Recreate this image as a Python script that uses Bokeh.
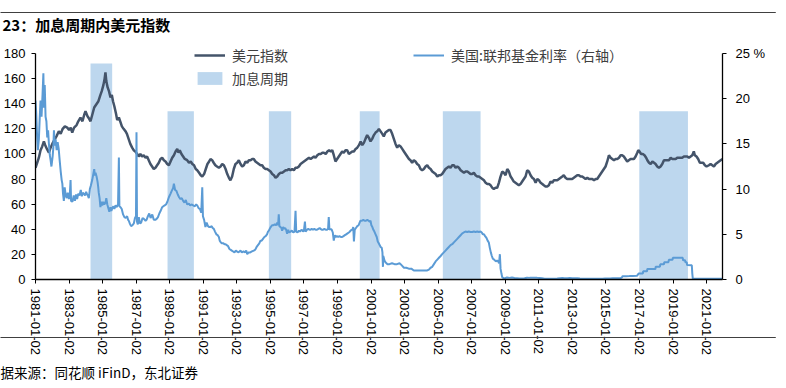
import math
import numpy as np
import pandas as pd
from bokeh.plotting import figure
from bokeh.models import (Range1d, LinearAxis, FixedTicker, DatetimeTickFormatter,
                          Legend, LegendItem, Label)
from bokeh.embed import file_html
from bokeh.resources import INLINE

# ---------------- data (decimal years) ----------------
dxy_t = [1981.00, 1981.10, 1981.20, 1981.30, 1981.40, 1981.50, 1981.58, 1981.68, 1981.80, 1981.90,
         1982.00, 1982.12, 1982.25, 1982.39, 1982.50, 1982.62, 1982.75, 1982.89, 1983.00, 1983.10,
         1983.19, 1983.30, 1983.45, 1983.55, 1983.68, 1983.80, 1983.90, 1983.98, 1984.10, 1984.20,
         1984.28, 1984.38, 1984.50, 1984.60, 1984.75, 1984.87, 1984.95, 1985.05, 1985.12, 1985.17,
         1985.22, 1985.30, 1985.38, 1985.47, 1985.55, 1985.62, 1985.70, 1985.80, 1985.87, 1985.97,
         1986.05, 1986.15, 1986.25, 1986.37, 1986.45, 1986.55, 1986.65, 1986.76, 1986.85, 1986.95,
         1987.06, 1987.15, 1987.25, 1987.35, 1987.45, 1987.56, 1987.65, 1987.75, 1987.85, 1987.95,
         1988.05, 1988.15, 1988.25, 1988.35, 1988.45, 1988.55, 1988.65, 1988.75, 1988.85, 1988.95,
         1989.05, 1989.15, 1989.25, 1989.35, 1989.45, 1989.52, 1989.60, 1989.70, 1989.80, 1989.90,
         1990.04, 1990.15, 1990.25, 1990.35, 1990.45, 1990.55, 1990.64, 1990.75, 1990.85, 1990.94,
         1991.05, 1991.15, 1991.25, 1991.35, 1991.43, 1991.53, 1991.62, 1991.72, 1991.82, 1991.93,
         1992.03, 1992.13, 1992.23, 1992.33, 1992.43, 1992.53, 1992.62, 1992.72, 1992.82, 1992.92,
         1993.02, 1993.12, 1993.22, 1993.32, 1993.42, 1993.52, 1993.62, 1993.72, 1993.82, 1993.92,
         1994.01, 1994.11, 1994.21, 1994.31, 1994.41, 1994.51, 1994.61, 1994.71, 1994.81, 1994.91,
         1995.01, 1995.11, 1995.21, 1995.31, 1995.41, 1995.51, 1995.61, 1995.71, 1995.81, 1995.91,
         1996.00, 1996.10, 1996.20, 1996.30, 1996.40, 1996.50, 1996.60, 1996.70, 1996.80, 1996.90,
         1997.00, 1997.10, 1997.20, 1997.30, 1997.40, 1997.50, 1997.60, 1997.69, 1997.80, 1997.90,
         1998.00, 1998.10, 1998.19, 1998.30, 1998.40, 1998.50, 1998.60, 1998.69, 1998.78, 1998.88,
         1998.98, 1999.08, 1999.18, 1999.28, 1999.38, 1999.48, 1999.58, 1999.68, 1999.78, 1999.88,
         1999.98, 2000.08, 2000.18, 2000.28, 2000.38, 2000.48, 2000.58, 2000.67, 2000.77, 2000.87,
         2000.97, 2001.07, 2001.17, 2001.27, 2001.37, 2001.47, 2001.57, 2001.67, 2001.76, 2001.86,
         2001.96, 2002.06, 2002.16, 2002.26, 2002.36, 2002.46, 2002.56, 2002.66, 2002.76, 2002.86,
         2002.96, 2003.06, 2003.16, 2003.26, 2003.35, 2003.45, 2003.55, 2003.65, 2003.75, 2003.85,
         2003.95, 2004.05, 2004.15, 2004.25, 2004.35, 2004.45, 2004.55, 2004.65, 2004.75, 2004.85,
         2004.95, 2005.05, 2005.14, 2005.24, 2005.34, 2005.44, 2005.54, 2005.64, 2005.74, 2005.84,
         2005.94, 2006.04, 2006.14, 2006.24, 2006.34, 2006.44, 2006.54, 2006.64, 2006.74, 2006.84,
         2006.93, 2007.03, 2007.13, 2007.23, 2007.33, 2007.43, 2007.53, 2007.63, 2007.73, 2007.83,
         2007.93, 2008.03, 2008.13, 2008.23, 2008.32, 2008.42, 2008.52, 2008.62, 2008.72, 2008.82,
         2008.92, 2009.02, 2009.12, 2009.22, 2009.32, 2009.42, 2009.51, 2009.61, 2009.71, 2009.81,
         2009.91, 2010.01, 2010.11, 2010.21, 2010.31, 2010.41, 2010.51, 2010.61, 2010.71, 2010.81,
         2010.91, 2011.01, 2011.11, 2011.21, 2011.30, 2011.40, 2011.50, 2011.60, 2011.70, 2011.80,
         2011.90, 2012.00, 2012.10, 2012.20, 2012.30, 2012.40, 2012.49, 2012.59, 2012.69, 2012.79,
         2012.89, 2012.99, 2013.09, 2013.19, 2013.29, 2013.39, 2013.49, 2013.59, 2013.69, 2013.79,
         2013.89, 2013.99, 2014.09, 2014.19, 2014.29, 2014.39, 2014.48, 2014.58, 2014.68, 2014.78,
         2014.88, 2014.98, 2015.08, 2015.18, 2015.28, 2015.38, 2015.48, 2015.58, 2015.68, 2015.78,
         2015.88, 2015.97, 2016.07, 2016.17, 2016.27, 2016.37, 2016.47, 2016.57, 2016.67, 2016.77,
         2016.87, 2016.93, 2017.00, 2017.10, 2017.20, 2017.30, 2017.40, 2017.47, 2017.57, 2017.67,
         2017.77, 2017.87, 2017.96, 2018.06, 2018.16, 2018.26, 2018.36, 2018.46, 2018.56, 2018.66,
         2018.76, 2018.86, 2018.96, 2019.06, 2019.16, 2019.25, 2019.35, 2019.45, 2019.55, 2019.65,
         2019.75, 2019.85, 2019.95, 2020.05, 2020.15, 2020.24, 2020.30, 2020.40, 2020.50, 2020.60,
         2020.70, 2020.80, 2020.90, 2021.00, 2021.14, 2021.24, 2021.34, 2021.44, 2021.54, 2021.64,
         2021.74, 2021.84, 2021.95]
dxy_v = [89, 93, 97, 103, 106, 110, 107, 104, 101, 105,
         108, 111, 114, 118, 116, 120, 122, 121, 119, 121,
         117, 121, 123, 126, 129, 126, 131, 134, 130, 128,
         126, 131, 137, 139, 142, 147, 150, 155, 160, 165,
         158, 153, 150, 145, 147, 142, 138, 132, 127, 129,
         126, 122, 120, 118, 116, 112, 108, 105, 103, 102,
         100, 98, 100, 98, 99, 97, 98, 95, 92, 90,
         88, 89, 91, 93, 96, 97, 95, 94, 92, 91,
         94, 97, 99, 102, 104, 101, 103, 100, 98, 96,
         95, 93, 94, 92, 91, 88, 87, 85, 83, 82,
         84, 88, 92, 94, 96, 95, 93, 91, 90, 89,
         90, 92, 91, 88, 84, 81, 79, 82, 88, 92,
         93, 95, 92, 90, 91, 94, 93, 95, 95, 96,
         96, 94, 93, 92, 91, 91, 89, 88, 88, 87,
         86, 84, 83, 81, 82, 84, 85, 85, 86, 87,
         87, 88, 87, 88, 87, 89, 89, 90, 92, 93,
         94, 95, 96, 97, 96, 97, 98, 97, 99, 100,
         100, 101, 101, 100, 102, 103, 102, 103, 99, 94,
         96, 98, 100, 102, 101, 103, 103, 100, 101, 102,
         102, 104, 105, 107, 110, 107, 109, 112, 115, 113,
         110, 112, 115, 117, 118, 120, 118, 116, 114, 117,
         118, 119, 119, 116, 112, 108, 105, 107, 106, 104,
         102, 100, 98, 96, 95, 93, 95, 94, 92, 91,
         88, 87, 88, 90, 91, 89, 88, 86, 85, 84,
         82, 83, 83, 84, 86, 88, 89, 90, 89, 91,
         91, 89, 90, 89, 87, 86, 85, 86, 86, 85,
         84, 84, 85, 83, 82, 82, 81, 80, 79, 77,
         76, 76, 75, 73, 72, 73, 73, 77, 82, 86,
         85, 83, 88, 86, 82, 80, 78, 77, 76, 75,
         76, 78, 80, 82, 87, 86, 83, 81, 80, 77,
         80, 79, 77, 76, 75, 74, 74, 75, 78, 77,
         79, 79, 79, 80, 81, 82, 83, 81, 80, 80,
         80, 80, 81, 82, 83, 83, 82, 82, 81, 80,
         81, 80, 80, 80, 79, 80, 80, 82, 84, 86,
         88, 90, 94, 99, 97, 96, 95, 96, 96, 97,
         99, 99, 98, 96, 94, 95, 96, 96, 96, 98,
         101, 103, 102, 100, 100, 99, 97, 95, 93, 92,
         94, 93, 92, 90, 89, 90, 92, 95, 95, 95,
         95, 97, 96, 96, 96, 97, 97, 97, 97, 98,
         98, 98, 97, 98, 99, 102, 99, 98, 96, 93,
         93, 93, 91, 90, 91, 92, 91, 90, 92, 93,
         94, 95, 96]

fed_t = [1981.00, 1981.04, 1981.08, 1981.14, 1981.20, 1981.25, 1981.30, 1981.36, 1981.42, 1981.47,
         1981.50, 1981.55, 1981.60, 1981.65, 1981.70, 1981.75, 1981.80, 1981.85, 1981.90, 1981.95,
         1982.02, 1982.06, 1982.10, 1982.15, 1982.20, 1982.26, 1982.32, 1982.38, 1982.44, 1982.50,
         1982.56, 1982.60, 1982.64, 1982.69, 1982.74, 1982.80, 1982.86, 1982.92, 1982.99, 1983.04,
         1983.09, 1983.12, 1983.20, 1983.28, 1983.35, 1983.42, 1983.48, 1983.55, 1983.62, 1983.70,
         1983.76, 1983.82, 1983.88, 1983.95, 1984.02, 1984.08, 1984.14, 1984.18, 1984.24, 1984.30,
         1984.38, 1984.44, 1984.50, 1984.54, 1984.58, 1984.64, 1984.70, 1984.74, 1984.77, 1984.82,
         1984.87, 1984.92, 1984.98, 1985.04, 1985.10, 1985.17, 1985.22, 1985.28, 1985.34, 1985.40,
         1985.47, 1985.52, 1985.58, 1985.64, 1985.70, 1985.77, 1985.84, 1985.92, 1985.97, 1986.00,
         1986.07, 1986.14, 1986.22, 1986.30, 1986.38, 1986.46, 1986.52, 1986.56, 1986.62, 1986.70,
         1986.78, 1986.86, 1986.93, 1986.99, 1987.02, 1987.05, 1987.10, 1987.16, 1987.22, 1987.30,
         1987.38, 1987.46, 1987.56, 1987.62, 1987.70, 1987.78, 1987.86, 1987.96, 1988.05, 1988.14,
         1988.22, 1988.30, 1988.38, 1988.46, 1988.55, 1988.62, 1988.70, 1988.78, 1988.86, 1988.95,
         1989.05, 1989.12, 1989.20, 1989.25, 1989.32, 1989.40, 1989.48, 1989.56, 1989.64, 1989.72,
         1989.80, 1989.88, 1989.96, 1990.04, 1990.14, 1990.22, 1990.30, 1990.40, 1990.50, 1990.58,
         1990.64, 1990.72, 1990.80, 1990.88, 1990.94, 1990.98, 1991.05, 1991.13, 1991.20, 1991.28,
         1991.36, 1991.43, 1991.50, 1991.56, 1991.63, 1991.70, 1991.78, 1991.86, 1991.93, 1991.98,
         1992.05, 1992.12, 1992.20, 1992.27, 1992.33, 1992.40, 1992.48, 1992.55, 1992.62, 1992.70,
         1992.78, 1992.86, 1992.94, 1993.00, 1993.10, 1993.22, 1993.30, 1993.40, 1993.50, 1993.56,
         1993.62, 1993.70, 1993.80, 1993.90, 1994.01, 1994.10, 1994.18, 1994.26, 1994.34, 1994.41,
         1994.48, 1994.56, 1994.64, 1994.72, 1994.80, 1994.86, 1994.91, 1994.96, 1995.02, 1995.10,
         1995.18, 1995.26, 1995.34, 1995.41, 1995.46, 1995.50, 1995.54, 1995.60, 1995.66, 1995.70,
         1995.76, 1995.82, 1995.88, 1995.94, 1996.00, 1996.06, 1996.12, 1996.20, 1996.28, 1996.36,
         1996.44, 1996.50, 1996.54, 1996.62, 1996.70, 1996.76, 1996.80, 1996.88, 1996.94, 1997.00,
         1997.06, 1997.10, 1997.18, 1997.26, 1997.34, 1997.39, 1997.46, 1997.54, 1997.62, 1997.70,
         1997.78, 1997.86, 1997.94, 1997.99, 1998.06, 1998.14, 1998.22, 1998.30, 1998.38, 1998.44,
         1998.48, 1998.52, 1998.60, 1998.66, 1998.72, 1998.78, 1998.84, 1998.90, 1998.96, 1999.04,
         1999.12, 1999.20, 1999.28, 1999.36, 1999.44, 1999.52, 1999.60, 1999.68, 1999.74, 1999.78,
         1999.84, 1999.90, 1999.94, 1999.98, 2000.03, 2000.10, 2000.18, 2000.26, 2000.32, 2000.37,
         2000.46, 2000.54, 2000.62, 2000.70, 2000.78, 2000.86, 2000.92, 2000.97, 2001.02, 2001.08,
         2001.14, 2001.20, 2001.27, 2001.34, 2001.40, 2001.46, 2001.52, 2001.57, 2001.64, 2001.68,
         2001.71, 2001.73, 2001.76, 2001.80, 2001.86, 2001.92, 2001.98, 2002.10, 2002.25, 2002.40,
         2002.55, 2002.70, 2002.76, 2002.86, 2002.96, 2003.10, 2003.25, 2003.40, 2003.55, 2003.70,
         2003.85, 2004.00, 2004.15, 2004.35, 2004.45, 2004.55, 2004.65, 2004.75, 2004.85, 2004.95,
         2005.05, 2005.15, 2005.24, 2005.34, 2005.44, 2005.54, 2005.64, 2005.74, 2005.84, 2005.94,
         2006.04, 2006.14, 2006.24, 2006.34, 2006.44, 2006.53, 2006.63, 2006.73, 2006.83, 2006.93,
         2007.03, 2007.13, 2007.23, 2007.33, 2007.43, 2007.53, 2007.60, 2007.66, 2007.73, 2007.80,
         2007.88, 2007.95, 2008.02, 2008.08, 2008.14, 2008.20, 2008.26, 2008.34, 2008.44, 2008.52,
         2008.58, 2008.63, 2008.68, 2008.72, 2008.78, 2008.82, 2008.90, 2009.00, 2009.10, 2009.25,
         2009.40, 2009.55, 2009.70, 2009.85, 2010.00, 2010.15, 2010.30, 2010.45, 2010.60, 2010.75,
         2010.90, 2011.05, 2011.20, 2011.35, 2011.50, 2011.65, 2011.80, 2011.95, 2012.10, 2012.25,
         2012.40, 2012.55, 2012.70, 2012.85, 2013.00, 2013.15, 2013.30, 2013.45, 2013.60, 2013.75,
         2013.90, 2014.05, 2014.20, 2014.35, 2014.50, 2014.65, 2014.80, 2014.95, 2015.10, 2015.25,
         2015.40, 2015.55, 2015.70, 2015.85, 2015.96, 2015.99, 2016.20, 2016.40, 2016.60, 2016.85,
         2016.95, 2017.20, 2017.22, 2017.45, 2017.47, 2017.95, 2017.97, 2018.22, 2018.24, 2018.46,
         2018.48, 2018.73, 2018.75, 2018.97, 2018.99, 2019.58, 2019.60, 2019.72, 2019.74, 2019.82,
         2019.84, 2020.12, 2020.15, 2020.18, 2020.50, 2021.00, 2021.50, 2021.95]
fed_v = [19.8, 18.5, 16.5, 14.3, 15.5, 17.8, 19.8, 18.0, 20.5, 22.8,
         19.0, 21.5, 18.0, 17.5, 15.7, 16.5, 15.0, 13.8, 13.2, 12.5,
         13.6, 14.5, 16.5, 14.8, 15.5, 14.3, 15.2, 14.5, 13.2, 12.0,
         11.0, 10.6, 9.5, 8.7, 10.2, 9.3, 9.0, 9.6, 8.9, 9.2,
         11.0, 8.7, 8.6, 9.3, 8.7, 9.4, 8.9, 9.5, 9.3, 9.9,
         9.2, 9.6, 9.5, 9.3, 9.7, 9.4, 9.2, 9.0, 10.0, 10.4,
         11.0, 11.6, 12.2, 11.5, 11.8, 11.4, 10.8, 10.2, 9.6, 9.0,
         8.0, 8.6, 8.2, 8.6, 8.3, 8.5, 9.0, 8.3, 7.9, 7.5,
         8.0, 7.6, 7.9, 8.1, 7.8, 8.2, 8.0, 8.3, 13.5, 8.1,
         8.0, 7.8, 7.2, 6.9, 6.8, 7.0, 6.6, 6.5, 6.2, 5.9,
         6.0, 6.2, 6.8, 7.0, 16.3, 6.4, 6.1, 6.9, 6.2, 6.3,
         6.8, 6.7, 6.5, 6.6, 7.0, 7.3, 6.8, 7.2, 6.6, 6.6,
         6.7, 6.9, 7.3, 7.6, 8.0, 8.1, 8.2, 8.3, 8.6, 9.1,
         9.5, 9.8, 10.1, 10.6, 9.9, 9.8, 9.4, 9.1, 8.9, 9.0,
         8.7, 8.5, 8.8, 8.3, 8.4, 8.2, 8.3, 8.2, 8.1, 8.3,
         8.2, 7.9, 7.8, 7.4, 10.2, 7.0, 6.6, 5.8, 6.3, 5.9,
         5.8, 5.8, 5.9, 5.7, 5.6, 5.3, 5.0, 4.9, 4.7, 4.3,
         4.1, 4.0, 4.0, 3.9, 3.9, 3.8, 3.7, 3.4, 3.3, 3.2,
         3.1, 3.0, 3.2, 3.1, 3.0, 3.2, 3.0, 3.1, 3.0, 3.2,
         2.8, 3.0, 3.0, 3.1, 3.2, 3.3, 3.6, 3.8, 4.0, 4.3,
         4.3, 4.5, 4.7, 4.8, 5.0, 5.3, 5.4, 5.6, 5.8, 6.0,
         6.0, 6.1, 6.0, 6.3, 6.0, 7.2, 5.9, 5.8, 5.7, 5.4,
         5.8, 5.6, 5.7, 5.5, 5.05, 5.5, 5.2, 5.3, 5.4, 5.2,
         5.3, 7.6, 5.3, 5.2, 5.4, 5.3, 5.4, 5.5, 5.3, 5.4,
         6.4, 5.3, 5.5, 5.6, 5.5, 5.5, 5.6, 5.5, 5.6, 5.5,
         5.5, 5.6, 5.7, 5.6, 5.5, 5.5, 5.6, 5.5, 5.5, 5.6,
         6.9, 5.5, 5.6, 5.5, 5.2, 4.3, 4.9, 4.7, 4.8, 4.7,
         4.8, 4.7, 4.7, 4.8, 4.9, 5.0, 5.1, 5.2, 5.3, 5.4,
         5.5, 5.5, 5.8, 4.2, 5.5, 5.7, 5.9, 6.0, 6.3, 6.5,
         6.5, 6.6, 6.5, 6.5, 6.6, 6.5, 6.4, 6.5, 6.0, 5.8,
         5.5, 5.3, 5.0, 4.7, 4.2, 4.0, 3.8, 3.6, 3.5, 3.0,
         1.4, 2.6, 2.4, 2.1, 1.9, 1.8, 1.7, 1.7, 1.8, 1.7,
         1.7, 1.8, 1.7, 1.5, 1.3, 1.3, 1.2, 1.2, 1.0, 1.0,
         1.0, 1.0, 1.0, 1.0, 1.1, 1.3, 1.4, 1.7, 2.0, 2.2,
         2.4, 2.6, 2.8, 3.0, 3.2, 3.4, 3.6, 3.8, 3.9, 4.1,
         4.3, 4.5, 4.7, 4.9, 5.1, 5.2, 5.3, 5.25, 5.3, 5.25,
         5.25, 5.3, 5.25, 5.3, 5.25, 5.3, 5.2, 5.0, 5.0, 4.8,
         4.6, 4.3, 4.1, 3.5, 3.0, 2.6, 2.3, 2.2, 2.0, 2.1,
         2.0, 1.8, 2.8, 1.2, 0.6, 0.25, 0.15, 0.15, 0.22, 0.18,
         0.21, 0.16, 0.14, 0.12, 0.11, 0.13, 0.20, 0.18, 0.19, 0.19,
         0.18, 0.16, 0.13, 0.09, 0.08, 0.09, 0.07, 0.08, 0.10, 0.14,
         0.16, 0.15, 0.14, 0.16, 0.14, 0.15, 0.14, 0.11, 0.09, 0.08,
         0.09, 0.07, 0.08, 0.09, 0.09, 0.09, 0.09, 0.12, 0.11, 0.12,
         0.13, 0.13, 0.14, 0.13, 0.24, 0.36, 0.37, 0.38, 0.40, 0.41,
         0.66, 0.66, 0.91, 0.91, 1.16, 1.16, 1.42, 1.42, 1.68, 1.68,
         1.91, 1.91, 2.18, 2.18, 2.40, 2.40, 2.13, 2.13, 1.90, 1.90,
         1.60, 1.58, 0.65, 0.08, 0.09, 0.08, 0.08, 0.08]

band_start = [1984.28, 1988.87, 1994.91, 2000.33, 2005.28, 2016.99]
band_end = [1985.57, 1990.44, 1996.24, 2001.51, 2007.53, 2019.89]
band_top = [172, 134, 134, 134, 134, 134]

x_ticks = ["1981-01-02", "1983-01-02", "1985-01-02", "1987-01-02", "1989-01-02", "1991-01-02",
           "1993-01-02", "1995-01-02", "1997-01-02", "1999-01-02", "2001-01-02", "2003-01-02",
           "2005-01-02", "2007-01-02", "2009-01-02", "2011-01-02", "2013-01-02", "2015-01-02",
           "2017-01-02", "2019-01-02", "2021-01-02"]
left_ticks = [0, 20, 40, 60, 80, 100, 120, 140, 160, 180]
right_ticks = [0, 5, 10, 15, 20, 25]


def to_dt(ts):
    ts = np.asarray(ts, dtype=float)
    return pd.to_datetime("1970-01-01") + pd.to_timedelta((ts - 1970.0) * 365.2425, unit="D")


NUM_FONT = "Liberation Sans"
CJK_FONT = "Noto Sans CJK SC"
TOP = 40        # frame top (px); axes only span 0..180 / 0..25 (y 53..279)
HEIGHT = 388

p = figure(width=786, height=HEIGHT, x_axis_type="datetime",
           x_range=Range1d(to_dt([1981.0])[0], to_dt([2021.95])[0]),
           y_range=Range1d(0, 180 * (279 - TOP) / 226.0),
           output_backend="svg", toolbar_location=None,
           min_border_left=35, min_border_right=64, min_border_top=TOP, min_border_bottom=HEIGHT - 279)
p.extra_y_ranges = {"rate": Range1d(0, 25 * (279 - TOP) / 226.0)}
p.background_fill_color = "white"
p.border_fill_color = "white"
p.outline_line_color = None
p.xgrid.visible = False
p.ygrid.visible = False

r_band = p.quad(left=to_dt(band_start), right=to_dt(band_end), bottom=0, top=band_top,
                fill_color="#BDD7EE", line_color=None)
r_dxy = p.line(to_dt(dxy_t), dxy_v, line_color="#44546A", line_width=2.5)
r_fed = p.line(to_dt(fed_t), fed_v, line_color="#5B9BD5", line_width=2, y_range_name="rate")

ax = p.xaxis[0]
ax.ticker = FixedTicker(ticks=[int(v) for v in (pd.to_datetime(x_ticks).astype("int64") // 10**6)])
fmt = "%Y-%m-%d"
ax.formatter = DatetimeTickFormatter(microseconds=fmt, milliseconds=fmt, seconds=fmt, minsec=fmt,
                                     minutes=fmt, hourmin=fmt, hours=fmt, days=fmt, months=fmt, years=fmt)
ax.major_label_orientation = -math.pi / 2
ax.major_label_text_font = NUM_FONT
ax.major_label_text_font_size = "13px"
ax.major_label_text_color = "#000000"
ax.major_label_standoff = 5
ax.major_tick_in = 0
ax.major_tick_out = 4
ax.minor_tick_out = 0
ax.minor_tick_in = 0
ax.axis_line_color = "#000000"
ax.axis_line_width = 1.3
ax.major_tick_line_color = "#000000"

ay = p.yaxis[0]
ay.ticker = FixedTicker(ticks=left_ticks)
ay.bounds = (0, 180)
ay.major_label_text_font = NUM_FONT
ay.major_label_text_font_size = "13px"
ay.major_label_text_color = "#000000"
ay.major_label_standoff = 6
ay.major_tick_in = 0
ay.major_tick_out = 4
ay.minor_tick_out = 0
ay.minor_tick_in = 0
ay.axis_line_color = "#000000"
ay.axis_line_width = 1.3

ar = LinearAxis(y_range_name="rate", ticker=FixedTicker(ticks=right_ticks), bounds=(0, 25))
ar.major_label_overrides = {25: "25 %"}
ar.major_label_text_font = NUM_FONT
ar.major_label_text_font_size = "13px"
ar.major_label_text_color = "#000000"
ar.major_label_standoff = 9
ar.major_tick_in = 0
ar.major_tick_out = 4
ar.minor_tick_out = 0
ar.minor_tick_in = 0
ar.axis_line_color = "#000000"
ar.axis_line_width = 1.3
p.add_layout(ar, "right")


def add_leg(label, rend, loc):
    lg = Legend(items=[LegendItem(label=label, renderers=[rend])], location=loc,
                orientation="horizontal", border_line_color=None, background_fill_alpha=0,
                padding=0, margin=0, spacing=0, glyph_width=31, glyph_height=16,
                label_standoff=7, label_height=16, label_text_font=CJK_FONT,
                label_text_font_size="14px", label_text_color="#404040")
    p.add_layout(lg, "center")


add_leg("美元指数", r_dxy, (159, 214))
add_leg("美国:联邦基金利率（右轴）", r_fed, (378, 214))
add_leg("加息周期", r_band, (159, 191))

# --- side-panel labels (not clipped to the frame); y measured up from the panel edge ---
p.add_layout(Label(x=-33, y=TOP - 23.5, x_units="screen", y_units="screen",
                   text="23：加息周期内美元指数", text_font=CJK_FONT, text_font_style="bold",
                   text_font_size="15px", text_color="#000000",
                   text_baseline="middle", text_align="left"), "above")
p.add_layout(Label(x=-35, y=TOP - 33, x_units="screen", y_units="screen", text=" ",
                   text_font=NUM_FONT, text_font_size="1px", text_baseline="middle",
                   text_align="left", background_fill_color="#404040", background_fill_alpha=1,
                   padding=dict(left=0, right=775, top=0, bottom=0)), "above")
p.add_layout(Label(x=-35, y=21, x_units="screen", y_units="screen", text=" ",
                   text_font=NUM_FONT, text_font_size="1px", text_baseline="middle",
                   text_align="left", background_fill_color="#404040", background_fill_alpha=1,
                   padding=dict(left=0, right=775, top=0, bottom=0)), "below")
p.add_layout(Label(x=-35, y=7, x_units="screen", y_units="screen",
                   text="据来源：同花顺 iFinD，东北证券", text_font=CJK_FONT,
                   text_font_size="13.5px", text_color="#000000",
                   text_baseline="middle", text_align="left"), "below")

open("out.html", "w").write(file_html(p, INLINE))
